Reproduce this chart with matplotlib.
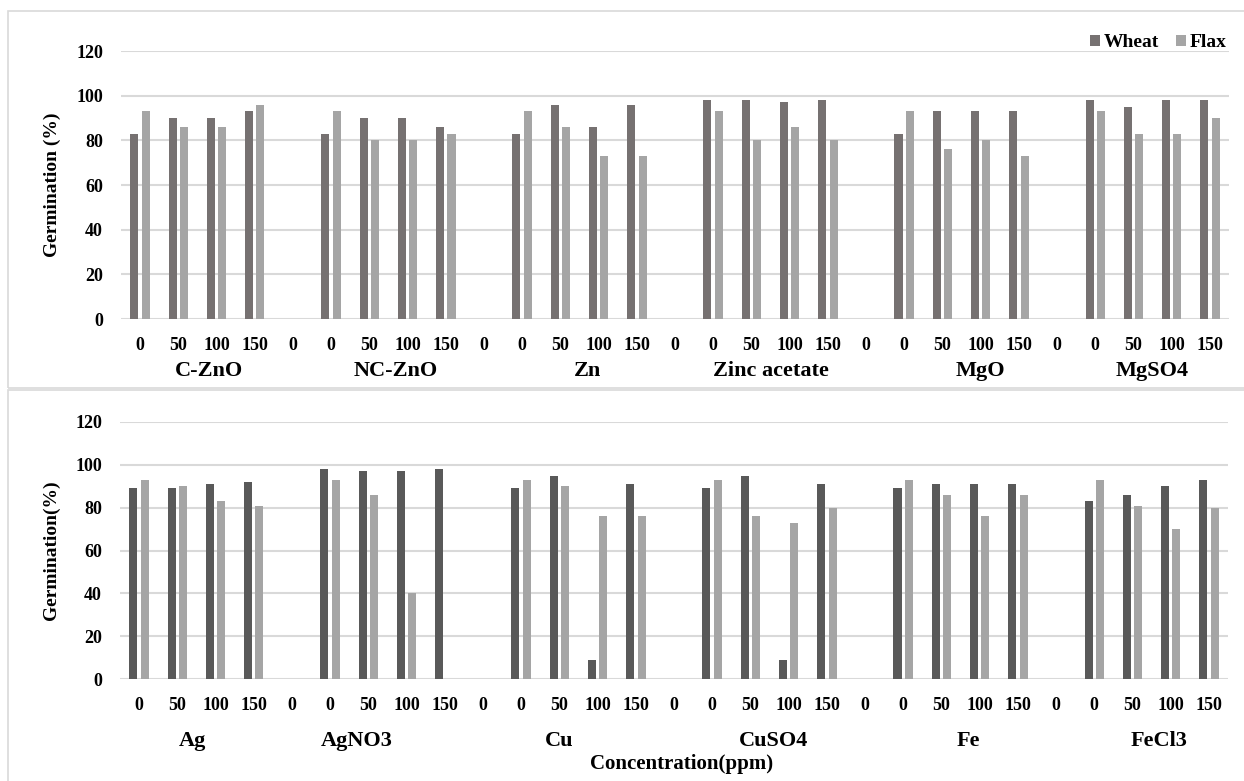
import numpy as np
import matplotlib
matplotlib.use('Agg')
import matplotlib.pyplot as plt
from matplotlib.patches import Rectangle

plt.rcParams['font.family'] = ['Liberation Serif', 'DejaVu Serif']
plt.rcParams['font.weight'] = 'bold'

# данные
conc = ['0', '50', '100', '150']

top_groups = ['C-ZnO', 'NC-ZnO', 'Zn', 'Zinc acetate', 'MgO', 'MgSO4']
top_wheat = [[83, 90, 90, 93], [83, 90, 90, 86], [83, 96, 86, 96],
             [98, 98, 97, 98], [83, 93, 93, 93], [98, 95, 98, 98]]
top_flax = [[93, 86, 86, 96], [93, 80, 80, 83], [93, 86, 73, 73],
            [93, 80, 86, 80], [93, 76, 80, 73], [93, 83, 83, 90]]

bot_groups = ['Ag', 'AgNO3', 'Cu', 'CuSO4', 'Fe', 'FeCl3']
bot_wheat = [[89, 89, 91, 92], [98, 97, 97, 98], [89, 95, 9, 91],
             [89, 95, 9, 91], [89, 91, 91, 91], [83, 86, 90, 93]]
bot_flax = [[93, 90, 83, 81], [93, 86, 40, 0], [93, 90, 76, 76],
            [93, 76, 73, 80], [93, 86, 76, 86], [93, 81, 70, 80]]

# сдвиг подписей групп (в слотах) относительно центра группы
top_lab_shift = [0.3, 0.2, 0.2, 0.0, 0.5, 0.0]
bot_lab_shift = [-0.1, -0.8, -0.5, 0.1, 0.2, 0.2]

FLAX_C = '#a5a5a5'
GRID_C = '#d9d9d9'

W, H = 1244, 781
fig = plt.figure(figsize=(W / 100, H / 100), dpi=100)


def px_axes(left, top, right, bottom):
    return fig.add_axes([left / W, 1 - bottom / H, (right - left) / W, (bottom - top) / H])


# рамки панелей
fig.patches.append(Rectangle((8 / W, 1 - 388 / H), 1240 / W, 377 / H, transform=fig.transFigure,
                             fill=False, edgecolor=GRID_C, linewidth=1.2))
fig.patches.append(Rectangle((8 / W, -0.01), 1240 / W, (781 - 390) / H + 0.01, transform=fig.transFigure,
                             fill=False, edgecolor=GRID_C, linewidth=1.2))


def draw_panel(ax, groups, wheat, flax, wheat_c, shifts, ylabel, lab_off):
    n = len(groups) * 5 - 1
    ticks, labels = [], []
    for g in range(len(groups)):
        x = np.arange(4) + g * 5
        ax.bar(x - 0.15, wheat[g], width=0.21, color=wheat_c, label='Wheat' if g == 0 else None, zorder=2)
        ax.bar(x + 0.15, flax[g], width=0.21, color=FLAX_C, label='Flax' if g == 0 else None, zorder=2)
        ticks += list(x)
        labels += conc
        if g < len(groups) - 1:
            ticks.append(g * 5 + 4)
            labels.append('0')
        ax.annotate(groups[g], xy=(g * 5 + 1.5 + shifts[g], 0), xycoords=ax.get_xaxis_transform(),
                    xytext=(0, -lab_off), textcoords='offset pixels',
                    ha='center', va='center', fontsize=16, fontweight='bold')
    ax.set_xlim(-0.5, n - 0.5)
    ax.set_ylim(0, 120)
    ax.set_yticks(range(0, 121, 20))
    ax.set_xticks(ticks)
    ax.set_xticklabels(labels)
    ax.tick_params(axis='both', length=0, labelsize=13)
    ax.tick_params(axis='x', pad=13)
    ax.tick_params(axis='y', pad=13)
    ax.yaxis.grid(True, color=GRID_C, linewidth=1.5, zorder=0)
    ax.set_axisbelow(True)
    for s in ax.spines.values():
        s.set_visible(False)
    ax.set_ylabel(ylabel, fontsize=14, fontweight='bold')
    ax.patch.set_alpha(0)


ax1 = px_axes(121, 51, 1229, 319)
draw_panel(ax1, top_groups, top_wheat, top_flax, '#767171', top_lab_shift, 'Germination (%)', 52)
ax1.yaxis.set_label_coords(-0.054, 0.5)
ax1.legend(loc='center right', bbox_to_anchor=(0.998, 1.03), ncol=2, frameon=False,
           fontsize=14, handlelength=0.5, handleheight=0.5, handletextpad=0.2,
           columnspacing=0.9, borderaxespad=0.0, borderpad=0.0)

ax2 = px_axes(120, 422, 1228, 679)
draw_panel(ax2, bot_groups, bot_wheat, bot_flax, '#595959', bot_lab_shift, 'Germination(%)', 62)
ax2.yaxis.set_label_coords(-0.054, 0.5)

fig.text(682 / W, 1 - 764 / H, 'Concentration(ppm)', ha='center', va='center',
         fontsize=15, fontweight='bold')

fig.savefig('out.png', dpi=100)
